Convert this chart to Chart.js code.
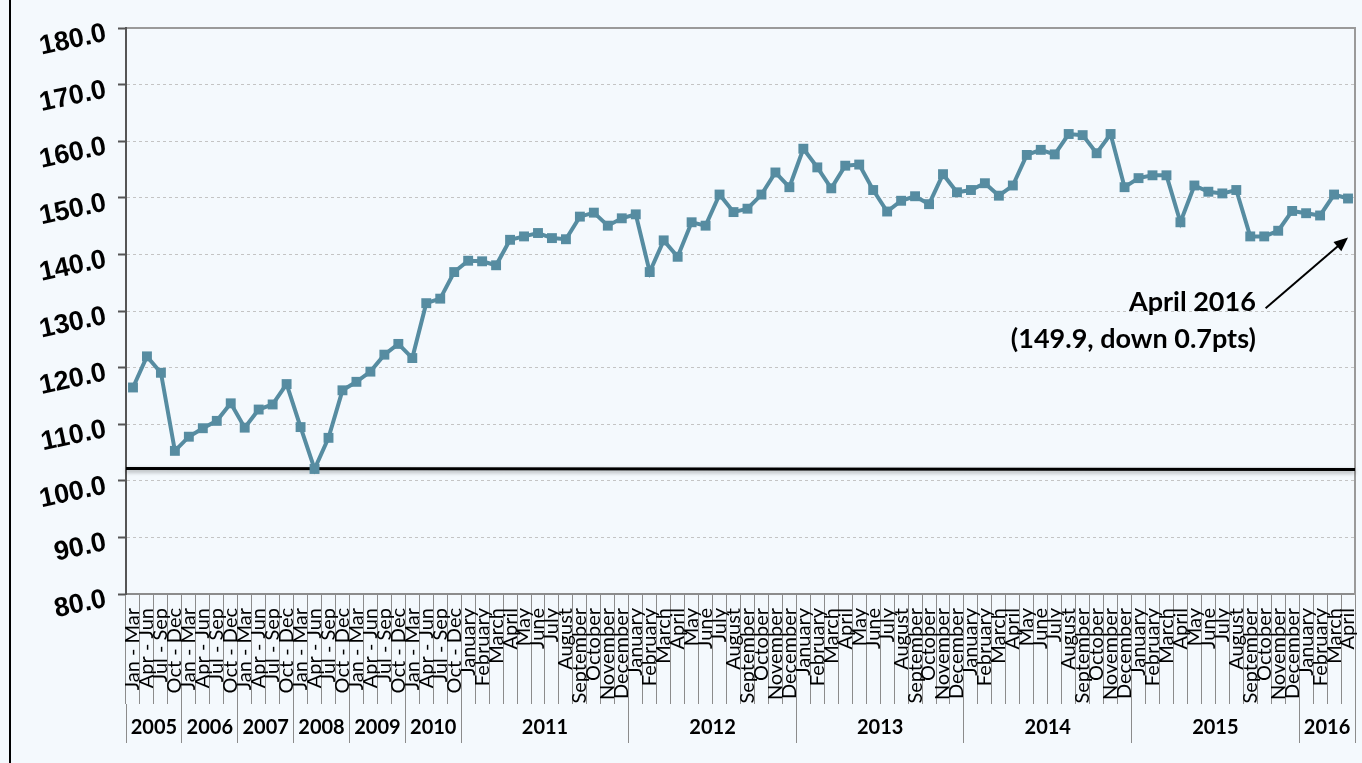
<!DOCTYPE html>
<html><head><meta charset="utf-8">
<script src="https://cdn.jsdelivr.net/npm/chart.js@4.4.1/dist/chart.umd.min.js"></script>
<style>
html,body{margin:0;padding:0;background:#f4f9fd;overflow:hidden;}
#wrap{position:relative;width:1362px;height:763px;}
#frame{position:absolute;left:9px;top:0;width:0;height:763px;border-left:2px solid #000;}
canvas{display:block;}
</style></head><body>
<div id="wrap"><canvas id="c" width="1362" height="763"></canvas><div id="frame"></div></div>
<script>
// ---- categories / tick labels ----
const quarterLabels = ['Jan - Mar', 'Apr - Jun', 'Jul - Sep', 'Oct - Dec'];
const monthLabels = ['January', 'February', 'March', 'April', 'May', 'June', 'July', 'August', 'September', 'October', 'November', 'December'];
const quarterYears = ['2005', '2006', '2007', '2008', '2009', '2010'];
const monthYears = ['2011', '2012', '2013', '2014', '2015'];
const partialYear = '2016';
const partialMonths = ['January', 'February', 'March', 'April'];

// ---- series values ----
const quarterlyValues = [
  116.5, 122.0, 119.1, 105.3,
  107.8, 109.3, 110.6, 113.7,
  109.4, 112.6, 113.5, 117.1,
  109.5, 102.1, 107.6, 116.0,
  117.5, 119.3, 122.3, 124.2,
  121.7, 131.4, 132.2, 136.9
];
const values2011 = [138.9, 138.8, 138.1, 142.6, 143.2, 143.8, 142.9, 142.7, 146.7, 147.4, 145.1, 146.4];
const values2012 = [147.1, 136.9, 142.5, 139.6, 145.7, 145.1, 150.6, 147.5, 148.1, 150.6, 154.5, 151.9];
const values2013 = [158.7, 155.4, 151.7, 155.7, 155.9, 151.4, 147.6, 149.5, 150.3, 148.9, 154.2, 151.0];
const values2014 = [151.4, 152.6, 150.4, 152.2, 157.6, 158.5, 157.7, 161.3, 161.1, 157.9, 161.3, 151.9];
const values2015 = [153.5, 154.0, 154.0, 145.7, 152.2, 151.1, 150.8, 151.4, 143.2, 143.2, 144.2, 147.7];
const values2016 = [147.3, 146.9, 150.6, 149.9];

// reference (base) line value at start and end of the plot
const referenceLine = [102.2, 102.0];

// y axis range
const yMin = 80, yMax = 180, yStep = 10;

// annotation text
const annotationLines = ['April 2016', '(149.9, down 0.7pts)'];

// ---- build tables ----
const categories = [];
const yearGroups = [];
quarterYears.forEach(y => { quarterLabels.forEach(q => categories.push(q)); yearGroups.push({ label: y, count: quarterLabels.length }); });
monthYears.forEach(y => { monthLabels.forEach(m => categories.push(m)); yearGroups.push({ label: y, count: monthLabels.length }); });
partialMonths.forEach(m => categories.push(m));
yearGroups.push({ label: partialYear, count: partialMonths.length });

const values = [].concat(quarterlyValues, values2011, values2012, values2013, values2014, values2015, values2016);

const yearTicks = [];
const yearLabelByValue = new Map();
let start = 0;
yearGroups.forEach(g => {
  yearTicks.push(start - 0.5);
  const c = start + (g.count - 1) / 2;
  yearTicks.push(c);
  yearLabelByValue.set(c, g.label);
  start += g.count;
});
yearTicks.push(start - 0.5);

// annotation placement (in data units: category index, value)
const annot = { textIndex: 80.4, line1Value: 131.6, line2Value: 125.0, arrowFrom: [81.1, 130.5], arrowTo: [87.0, 143.0] };

const refPlugin = {
  id: 'refline',
  beforeDatasetsDraw(chart) {
    const { ctx, chartArea, scales } = chart;
    const y = scales.y;
    ctx.save();
    ctx.strokeStyle = '#000';
    ctx.lineWidth = 3;
    ctx.shadowColor = 'rgba(0,0,0,0.35)';
    ctx.shadowBlur = 4;
    ctx.shadowOffsetY = 2;
    ctx.beginPath();
    ctx.moveTo(chartArea.left, y.getPixelForValue(referenceLine[0]));
    ctx.lineTo(chartArea.right, y.getPixelForValue(referenceLine[1]));
    ctx.stroke();
    ctx.restore();
  }
};

const annotPlugin = {
  id: 'annot',
  afterDatasetsDraw(chart) {
    const { ctx, scales } = chart;
    const x = scales.x, y = scales.y;
    ctx.save();
    ctx.fillStyle = '#000';
    ctx.font = 'bold 27px Lato, "Open Sans", sans-serif';
    ctx.textAlign = 'right';
    ctx.textBaseline = 'middle';
    const tx = x.getPixelForValue(annot.textIndex);
    ctx.fillText(annotationLines[0], tx, y.getPixelForValue(annot.line1Value));
    ctx.fillText(annotationLines[1], tx, y.getPixelForValue(annot.line2Value));
    const x1 = x.getPixelForValue(annot.arrowFrom[0]), y1 = y.getPixelForValue(annot.arrowFrom[1]);
    const x2 = x.getPixelForValue(annot.arrowTo[0]), y2 = y.getPixelForValue(annot.arrowTo[1]);
    const ang = Math.atan2(y2 - y1, x2 - x1);
    const hl = 14, hw = 6;
    ctx.strokeStyle = '#000';
    ctx.lineWidth = 2;
    ctx.beginPath();
    ctx.moveTo(x1, y1);
    ctx.lineTo(x2 - Math.cos(ang) * hl * 0.8, y2 - Math.sin(ang) * hl * 0.8);
    ctx.stroke();
    ctx.beginPath();
    ctx.moveTo(x2, y2);
    ctx.lineTo(x2 - Math.cos(ang) * hl - Math.sin(ang) * hw, y2 - Math.sin(ang) * hl + Math.cos(ang) * hw);
    ctx.lineTo(x2 - Math.cos(ang) * hl + Math.sin(ang) * hw, y2 - Math.sin(ang) * hl - Math.cos(ang) * hw);
    ctx.closePath();
    ctx.fill();
    ctx.restore();
  }
};

const lineColor = '#568ca1';

new Chart(document.getElementById('c'), {
  type: 'line',
  data: {
    labels: categories,
    datasets: [{
      data: values,
      xAxisID: 'x',
      yAxisID: 'y',
      borderColor: lineColor,
      backgroundColor: lineColor,
      borderWidth: 4,
      pointStyle: 'rect',
      pointRadius: 7,
      pointBorderWidth: 0,
      pointBackgroundColor: lineColor,
      tension: 0,
      clip: false
    }]
  },
  options: {
    responsive: false,
    animation: false,
    events: [],
    layout: { padding: { left: 0, top: 27, right: 6, bottom: 20 } },
    plugins: { legend: { display: false }, tooltip: { enabled: false }, title: { display: false } },
    scales: {
      x: {
        type: 'category', axis: 'x', position: 'bottom', weight: 1, offset: true,
        grid: { offset: true, drawOnChartArea: false, tickLength: 110, color: '#8c8c8c', lineWidth: 1 },
        border: { display: true, color: '#8c8c8c', width: 2 },
        ticks: { autoSkip: false, minRotation: 90, maxRotation: 90, padding: -96, color: '#000',
                 font: { family: 'Lato, "Open Sans", sans-serif', size: 20 } },
        afterFit: s => { s.height = 110; }
      },
      years: {
        type: 'linear', axis: 'x', position: 'bottom', weight: 2,
        min: -0.5, max: categories.length - 0.5,
        afterBuildTicks: s => { s.ticks = yearTicks.map(v => ({ value: v })); },
        grid: { drawOnChartArea: false, tickLength: 39, lineWidth: 1,
                color: c => (c.tick && yearLabelByValue.has(c.tick.value)) ? 'rgba(0,0,0,0)' : '#8c8c8c' },
        border: { display: false },
        ticks: { autoSkip: false, minRotation: 0, maxRotation: 0, padding: -27, color: '#000',
                 font: { family: 'Lato, "Open Sans", sans-serif', size: 20, weight: 'bold' },
                 callback: v => yearLabelByValue.get(v) || '' },
        afterFit: s => { s.height = 39; }
      },
      xTop: {
        type: 'category', axis: 'x', position: 'top',
        grid: { display: false }, ticks: { display: false },
        border: { display: true, color: '#9a9a9a', width: 2 },
        afterFit: s => { s.height = 0; }
      },
      y: {
        type: 'linear', axis: 'y', position: 'left', min: yMin, max: yMax,
        ticks: { stepSize: yStep, callback: v => Number(v).toFixed(1), color: '#000', minRotation: 12, maxRotation: 12, padding: 12, labelOffset: 5,
                 font: { family: '"Liberation Sans", Arial, sans-serif', size: 27, weight: 'bold' } },
        afterCalculateLabelRotation: s => { s.labelRotation = 12; },
        grid: { lineWidth: 1, tickLength: 8, tickColor: '#555', tickWidth: 2,
                color: c => (c.tick && (c.tick.value === yMax || c.tick.value === yMin)) ? 'rgba(0,0,0,0)' : '#c4c4c4' },
        border: { display: true, color: '#555', width: 2, dash: [3, 3] },
        afterFit: s => { s.width = 126; }
      },
      yRight: {
        type: 'linear', axis: 'y', position: 'right', min: yMin, max: yMax,
        grid: { display: false }, ticks: { display: false },
        border: { display: true, color: '#9a9a9a', width: 2 },
        afterFit: s => { s.width = 0; }
      }
    }
  },
  plugins: [refPlugin, annotPlugin]
});
</script>
</body></html>
